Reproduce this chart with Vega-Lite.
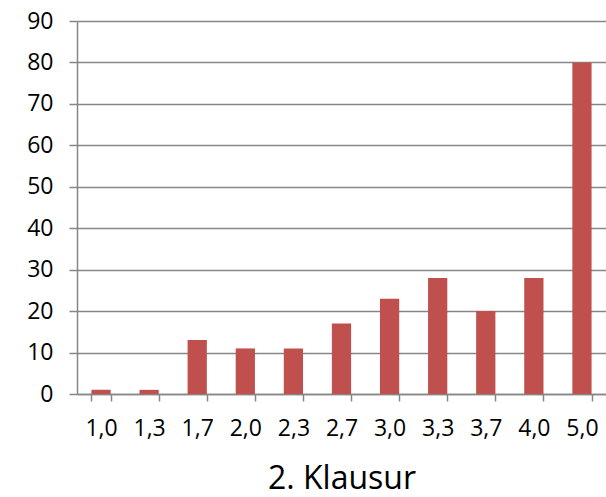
{
  "$schema": "https://vega.github.io/schema/vega-lite/v6.json",
  "autosize": "none",
  "width": 529,
  "height": 373,
  "padding": {"left": 77, "top": 21, "right": 0, "bottom": 103},
  "background": "white",
  "data": {"values": [
    {"note": "1,0", "count": 1},
    {"note": "1,3", "count": 1},
    {"note": "1,7", "count": 13},
    {"note": "2,0", "count": 11},
    {"note": "2,3", "count": 11},
    {"note": "2,7", "count": 17},
    {"note": "3,0", "count": 23},
    {"note": "3,3", "count": 28},
    {"note": "3,7", "count": 20},
    {"note": "4,0", "count": 28},
    {"note": "5,0", "count": 80}
  ]},
  "config": {"view": {"stroke": null}, "font": "Open Sans"},
  "mark": {"type": "bar", "color": "#C0504D"},
  "encoding": {
    "x": {
      "field": "note", "type": "nominal", "sort": null,
      "scale": {"paddingInner": 0.6, "paddingOuter": 0.3},
      "axis": {
        "title": "2. Klausur", "titleFont": "Open Sans", "titleFontSize": 32, "titleFontWeight": "normal", "titleColor": "#000", "titlePadding": 23,
        "labelFont": "Open Sans", "labelAngle": 0, "labelFontSize": 23, "labelColor": "#000", "labelPadding": 16,
        "tickBand": "extent", "tickSize": 7, "tickColor": "#868686", "tickWidth": 1.5,
        "domainColor": "#868686", "domainWidth": 1.5, "grid": false
      }
    },
    "y": {
      "field": "count", "type": "quantitative",
      "scale": {"domain": [0, 90], "nice": false},
      "axis": {
        "title": null, "values": [0,10,20,30,40,50,60,70,80,90],
        "labelFont": "Open Sans", "labelFontSize": 23, "labelColor": "#000", "labelPadding": 16,
        "tickSize": 8, "tickColor": "#868686", "tickWidth": 1.5,
        "domainColor": "#868686", "domainWidth": 1.5,
        "grid": true, "gridColor": "#868686", "gridWidth": 1.5
      }
    }
  }
}
